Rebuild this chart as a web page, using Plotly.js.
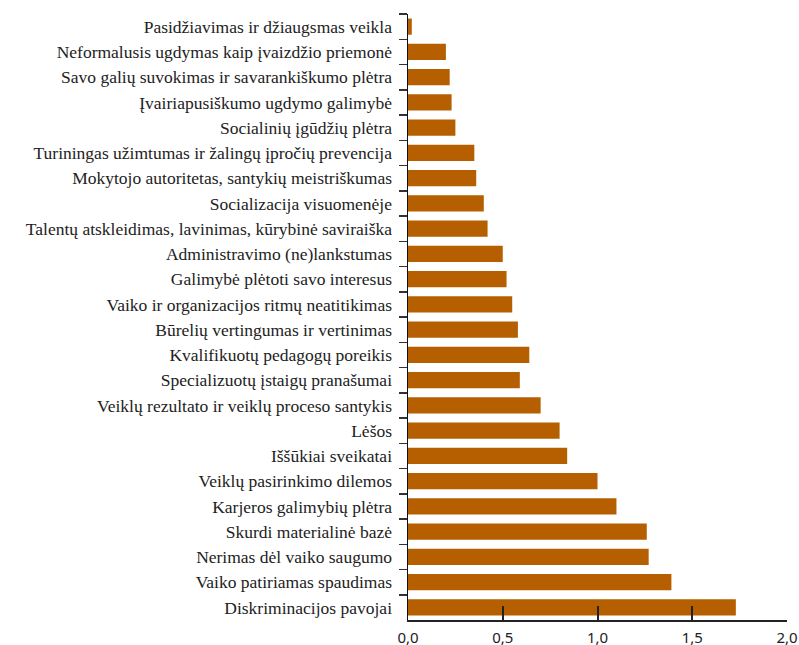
<!DOCTYPE html>
<html>
<head>
<meta charset="utf-8">
<script src="https://cdn.plot.ly/plotly-3.0.1.min.js"></script>
<style>html,body{margin:0;padding:0;background:#fff;}#chart{width:799px;height:645px;}</style>
</head>
<body>
<div id="chart"></div>
<script>
const categories = [
  "Pasidžiavimas ir džiaugsmas veikla",
  "Neformalusis ugdymas kaip įvaizdžio priemonė",
  "Savo galių suvokimas ir savarankiškumo plėtra",
  "Įvairiapusiškumo ugdymo galimybė",
  "Socialinių įgūdžių plėtra",
  "Turiningas užimtumas ir žalingų įpročių prevencija",
  "Mokytojo autoritetas, santykių meistriškumas",
  "Socializacija visuomenėje",
  "Talentų atskleidimas, lavinimas, kūrybinė saviraiška",
  "Administravimo (ne)lankstumas",
  "Galimybė plėtoti savo interesus",
  "Vaiko ir organizacijos ritmų neatitikimas",
  "Būrelių vertingumas ir vertinimas",
  "Kvalifikuotų pedagogų poreikis",
  "Specializuotų įstaigų pranašumai",
  "Veiklų rezultato ir veiklų proceso santykis",
  "Lėšos",
  "Iššūkiai sveikatai",
  "Veiklų pasirinkimo dilemos",
  "Karjeros galimybių plėtra",
  "Skurdi materialinė bazė",
  "Nerimas dėl vaiko saugumo",
  "Vaiko patiriamas spaudimas",
  "Diskriminacijos pavojai"
];
const values = [0.02, 0.20, 0.22, 0.23, 0.25, 0.35, 0.36, 0.40, 0.42, 0.50, 0.52, 0.55,
                0.58, 0.64, 0.59, 0.70, 0.80, 0.84, 1.00, 1.10, 1.26, 1.27, 1.39, 1.73];
const xTicks = [0, 0.5, 1.0, 1.5, 2.0];

const trace = {
  type: "bar",
  orientation: "h",
  x: values,
  y: categories,
  marker: {color: "#b55f00"},
  hoverinfo: "x+y"
};

const layout = {
  width: 799, height: 645,
  margin: {l: 408, r: 12, t: 14, b: 25},
  paper_bgcolor: "#fff", plot_bgcolor: "#fff",
  separators: ",.",
  bargap: 0.36,
  showlegend: false,
  xaxis: {
    range: [0, 2.0],
    tickvals: xTicks,
    tickformat: ".1f",
    ticks: "inside",
    ticklen: 14,
    tickwidth: 2,
    tickcolor: "#222",
    showline: true,
    linecolor: "#222",
    linewidth: 1.5,
    showgrid: false,
    zeroline: false,
    ticklabelstandoff: 3,
    tickfont: {family: "Noto Sans, sans-serif", size: 15, color: "#222"}
  },
  yaxis: {
    type: "category",
    autorange: "reversed",
    ticks: "outside",
    tickson: "boundaries",
    ticklen: 8,
    tickwidth: 1.5,
    tickcolor: "#333",
    showline: true,
    linecolor: "#111",
    linewidth: 1.5,
    showgrid: false,
    zeroline: false,
    ticklabelstandoff: 11,
    tickfont: {family: "Liberation Serif, serif", size: 17.5, color: "#222"}
  }
};

Plotly.newPlot("chart", [trace], layout, {displayModeBar: false, staticPlot: true});
</script>
</body>
</html>
